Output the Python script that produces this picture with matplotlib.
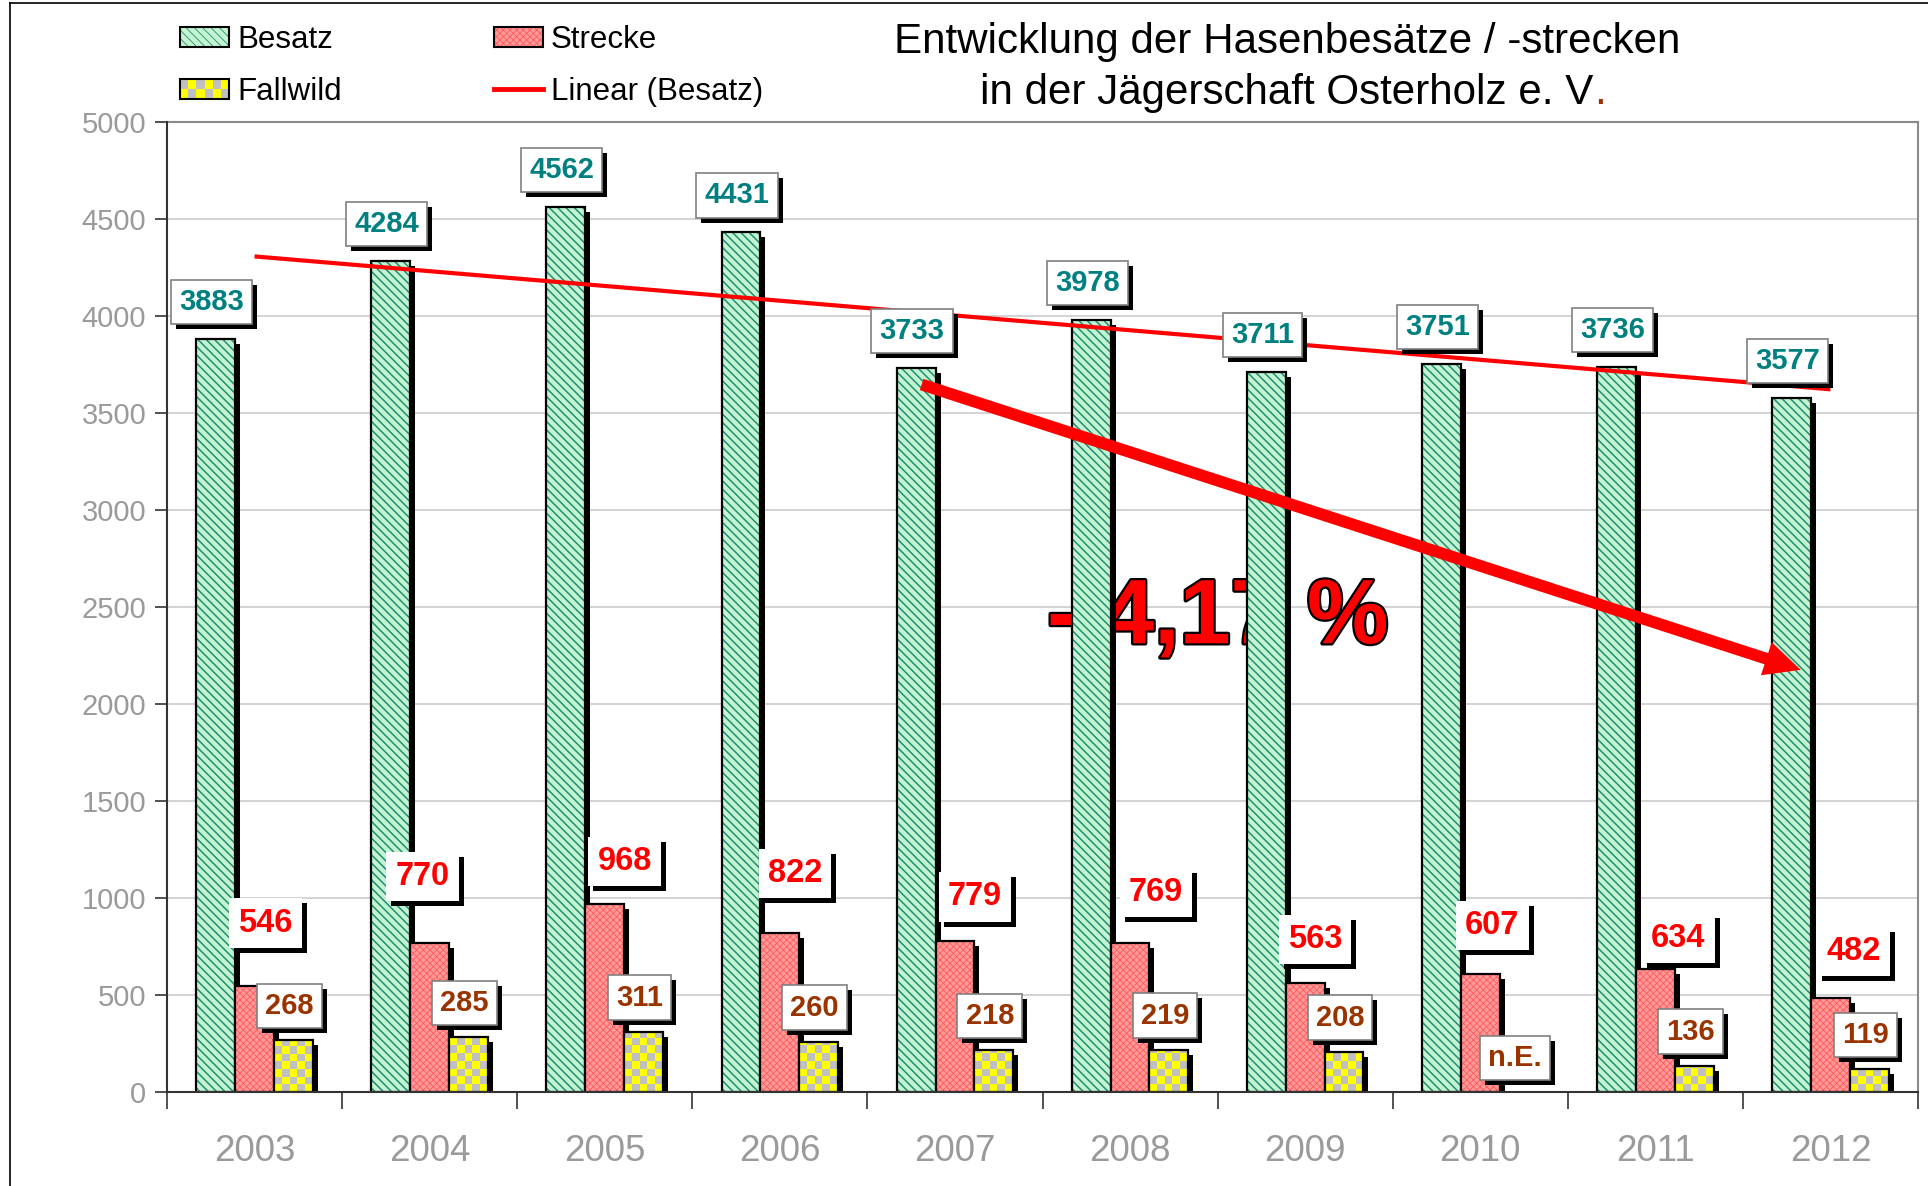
import numpy as np
import matplotlib
matplotlib.use("Agg")
import matplotlib.pyplot as plt
from matplotlib.patches import Patch, Rectangle, FancyArrowPatch
from matplotlib.lines import Line2D
from matplotlib.colors import ListedColormap
from matplotlib.legend_handler import HandlerBase
from matplotlib.text import Annotation
import matplotlib.patheffects as pe

# ---------------- data ----------------
years = ['2003', '2004', '2005', '2006', '2007', '2008', '2009', '2010', '2011', '2012']
besatz = [3883, 4284, 4562, 4431, 3733, 3978, 3711, 3751, 3736, 3577]
strecke = [546, 770, 968, 822, 779, 769, 563, 607, 634, 482]
fallwild = [268, 285, 311, 260, 218, 219, 208, np.nan, 136, 119]
missing_label = 'n.E.'
series_names = ['Besatz', 'Strecke', 'Fallwild']
trend_name = 'Linear (Besatz)'
yticks = list(range(0, 5001, 500))
title_line1 = 'Entwicklung der Hasenbesätze / -strecken'
title_line2 = 'in der Jägerschaft Osterholz e. V'
change_text = '- 4,17 %'

# label placement offsets (pixels) for Strecke labels
strecke_dx = [11, -7, 20, 15, 20, 26, 10, 12, 23, 23]
strecke_dy = [63, 66, 43, 59, 44, 50, 43, 49, 31, 47]

# ---------------- style ----------------
plt.rcParams['font.family'] = ['Liberation Sans', 'DejaVu Sans']
plt.rcParams['hatch.linewidth'] = 1.1

GREEN_FACE = '#c4f4cf'
GREEN_HATCH = '#1f8f78'
RED_FACE = '#ff9a9a'
RED_HATCH = '#ff5a5a'
YELLOW = '#ffff00'
GRAY = '#c0c0c0'
TEAL = '#008080'
BROWN = '#993300'
TICKGRAY = '#9a9a9a'

W, H = 1928, 1186
DPI = 100
PX = 72.0 / DPI  # points per pixel

fig = plt.figure(figsize=(W / DPI, H / DPI), dpi=DPI)
ax_left, ax_right, ax_top, ax_bottom = 167, 1918, 122, 1092
ax = fig.add_axes([ax_left / W, 1 - ax_bottom / H, (ax_right - ax_left) / W, (ax_bottom - ax_top) / H])

x = np.arange(len(years))
bw = 0.222

shadow = [pe.SimplePatchShadow(offset=(5 * PX, -5 * PX), shadow_rgbFace='black', alpha=1.0), pe.Normal()]

# Besatz
b_g = ax.bar(x - bw, besatz, bw, color=GREEN_FACE, edgecolor='none', linewidth=0, zorder=2.00)
for r in b_g:
    r.set_path_effects(shadow)
ax.bar(x - bw, besatz, bw, color='none', edgecolor=GREEN_HATCH, linewidth=0, hatch='\\\\\\\\', zorder=2.01)
ax.bar(x - bw, besatz, bw, color='none', edgecolor='black', linewidth=1.6, zorder=2.02)

# Strecke
plt.rcParams['hatch.linewidth'] = 0.6
b_r = ax.bar(x, strecke, bw, color=RED_FACE, edgecolor='none', linewidth=0, zorder=2.10)
for r in b_r:
    r.set_path_effects(shadow)
ax.bar(x, strecke, bw, color='none', edgecolor=RED_HATCH, linewidth=0, hatch='xxxxx', zorder=2.11)
ax.bar(x, strecke, bw, color='none', edgecolor='black', linewidth=1.6, zorder=2.12)

# Fallwild (checker pattern)
fw_draw = np.nan_to_num(np.array(fallwild, dtype=float), nan=0.0)
b_y = ax.bar(x + bw, fw_draw, bw, color=YELLOW, edgecolor='none', linewidth=0, zorder=2.20)
cell_h = 7.7 / ((ax_bottom - ax_top) / 5000.0)
cmap = ListedColormap([YELLOW, GRAY])
for r, v in zip(b_y, fallwild):
    if np.isnan(v) or v <= 0:
        r.set_visible(False)
        continue
    r.set_path_effects(shadow)
    nr = int(np.ceil(r.get_height() / cell_h))
    nc = 5
    arr = np.add.outer(np.arange(nr), np.arange(nc)) % 2
    im = ax.imshow(arr, cmap=cmap, extent=(r.get_x(), r.get_x() + r.get_width(), 0, nr * cell_h),
                   origin='lower', interpolation='nearest', aspect='auto', zorder=2.21)
    im.set_clip_path(r)
fw_edges = ax.bar(x + bw, fw_draw, bw, color='none', edgecolor='black', linewidth=1.6, zorder=2.22)
for r, v in zip(fw_edges, fallwild):
    if np.isnan(v):
        r.set_visible(False)

# trend line
coef = np.polyfit(x, besatz, 1)
ax.plot([x[0], x[-1]], np.polyval(coef, [x[0], x[-1]]), color='red', lw=3, zorder=3, solid_capstyle='butt')

# big arrow
arrow = FancyArrowPatch((3.81, 3647), (8.83, 2176), arrowstyle='simple,head_length=26,head_width=25,tail_width=8.5',
                        mutation_scale=1, color='red', lw=0, shrinkA=0, shrinkB=0, zorder=3.1)
ax.add_patch(arrow)

# change text (behind bars)
ax.text(5.5, 2313, change_text, fontsize=66, fontweight='bold', color='red', ha='center', va='baseline',
        family=['Liberation Sans Narrow', 'Liberation Sans', 'DejaVu Sans'], zorder=1.5,
        path_effects=[pe.withStroke(linewidth=3.2, foreground='black')])


def value_label(xp, yv, text, color, fs, dx, dy, ec):
    t = ax.annotate(text, (xp, yv), xytext=(dx * PX, dy * PX), textcoords='offset points',
                    ha='center', va='center', fontsize=fs, fontweight='bold', color=color, zorder=5,
                    bbox=dict(boxstyle='square,pad=0.28', fc='white', ec=ec, lw=1.2))
    t.get_bbox_patch().set_path_effects(shadow)
    return t


for i in range(len(years)):
    value_label(x[i] - bw, besatz[i], str(besatz[i]), TEAL, 21, -4, 37, '#808080')
    value_label(x[i], strecke[i], str(strecke[i]), 'red', 23.5, strecke_dx[i], strecke_dy[i], 'none')
    fv = fallwild[i]
    if np.isnan(fv):
        value_label(x[i] + bw, 0, missing_label, BROWN, 21, -4, 34, '#808080')
    else:
        value_label(x[i] + bw, fv, str(int(fv)), BROWN, 21, -4, 34, '#808080')

# axes styling
ax.set_xlim(-0.5, len(years) - 0.5)
ax.set_ylim(0, 5000)
ax.set_yticks(yticks)
ax.set_yticklabels([str(v) for v in yticks])
ax.set_xticks(x)
ax.set_xticklabels(years)
ax.set_xticks(np.arange(-0.5, len(years)), minor=True)
ax.tick_params(axis='y', direction='out', length=9, width=1.2, color='#333333', labelsize=21,
               labelcolor=TICKGRAY, pad=6)
ax.tick_params(axis='x', which='major', length=0, labelsize=26.5, labelcolor=TICKGRAY, pad=30)
ax.tick_params(axis='x', which='minor', direction='out', length=12, width=1.2, color='#333333')
ax.yaxis.grid(True, color='#cccccc', lw=1.2)
ax.set_axisbelow(True)
for s in ['left', 'bottom']:
    ax.spines[s].set_color('#333333')
    ax.spines[s].set_linewidth(1.5)
for s in ['top', 'right']:
    ax.spines[s].set_color('#8a8a8a')
    ax.spines[s].set_linewidth(1.5)
    ax.spines[s].set_zorder(1)


# legend
class SwatchHandler(HandlerBase):
    def __init__(self, kind):
        super().__init__()
        self.kind = kind

    def create_artists(self, legend, orig_handle, xdescent, ydescent, width, height, fontsize, trans):
        x0, y0 = -xdescent, -ydescent
        arts = []
        if self.kind == 'checker':
            nc, nr = 6, 2
            for i in range(nc):
                for j in range(nr):
                    arts.append(Rectangle((x0 + i * width / nc, y0 + j * height / nr), width / nc, height / nr,
                                          facecolor=YELLOW if (i + j) % 2 == 0 else GRAY, lw=0, transform=trans))
        else:
            face, hcol, hatch = self.kind
            arts.append(Rectangle((x0, y0), width, height, facecolor=face, lw=0, transform=trans))
            arts.append(Rectangle((x0, y0), width, height, facecolor='none', edgecolor=hcol, lw=0,
                                  hatch=hatch, transform=trans))
        arts.append(Rectangle((x0, y0), width, height, facecolor='none', edgecolor='black', lw=1.5, transform=trans))
        return arts


h_b = Patch(label=series_names[0])
h_s = Patch(label=series_names[1])
h_f = Patch(label=series_names[2])
h_t = Line2D([], [], color='red', lw=3.5)
leg = fig.legend([h_b, h_f, h_s, h_t], [series_names[0], series_names[2], series_names[1], trend_name],
                 loc='upper left', bbox_to_anchor=(180 / W, 1 - 25 / H), ncol=2, frameon=False,
                 fontsize=22.5, borderpad=0, borderaxespad=0, handlelength=1.57, handleheight=0.64,
                 handletextpad=0.26, columnspacing=4.86, labelspacing=0.7,
                 handler_map={h_b: SwatchHandler((GREEN_FACE, GREEN_HATCH, '\\\\\\\\')),
                              h_s: SwatchHandler((RED_FACE, RED_HATCH, 'xxxxx')),
                              h_f: SwatchHandler('checker')})

# title
fig.text(1287 / W, 1 - 42 / H, title_line1, fontsize=30.3, ha='center', va='center', color='black')
t2 = fig.text(1287 / W, 1 - 93 / H, title_line2, fontsize=30.3, ha='center', va='center', color='black')
fig.add_artist(Annotation('.', xy=(1, 0), xycoords=t2, ha='left', va='bottom', fontsize=30.3, color=BROWN))

# figure border lines
fig.add_artist(Line2D([10 / W, 10 / W], [0, 1 - 3 / H], transform=fig.transFigure, color='black', lw=1.2))
fig.add_artist(Line2D([10 / W, 1], [1 - 3 / H, 1 - 3 / H], transform=fig.transFigure, color='black', lw=1.2))

fig.savefig('out.png', dpi=DPI)
